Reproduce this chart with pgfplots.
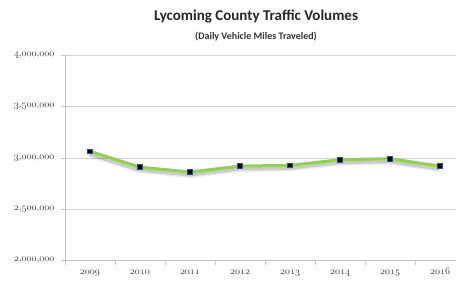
\documentclass[border=0pt]{standalone}
\usepackage{pgfplots}
\pgfplotsset{compat=1.18}
\usepackage{fontspec}
\setmainfont{Carlito}
\definecolor{lgreen}{RGB}{146,208,80}
\definecolor{axgray}{RGB}{195,195,195}
\definecolor{txtgray}{RGB}{60,60,60}
\definecolor{mkblue}{RGB}{40,80,140}
\newcommand{\os}[1]{$\mathnormal{#1}$}
\begin{document}
\begin{tikzpicture}[x=1pt,y=1pt]
\path[use as bounding box] (0,0) rectangle (456,281);
\begin{axis}[
  at={(65pt,20.3pt)}, anchor=south west,
  scale only axis, width=400pt, height=205.7pt,
  xmin=-0.5, xmax=7.5, ymin=2000000, ymax=4000000,
  axis x line=bottom, axis y line=left,
  axis line style={-, draw=axgray, line width=0.8pt},
  xtick={0,...,7},
  xticklabels={\os{2009},\os{2010},\os{2011},\os{2012},\os{2013},\os{2014},\os{2015},\os{2016}},
  major x tick style={draw=none},
  minor xtick={-0.5,0.5,...,7.5},
  minor x tick style={draw=axgray, line width=0.6pt},
  minor tick length=4pt,
  ytick={2000000,2500000,3000000,3500000,4000000},
  yticklabels={\os{2{,}000{,}000},\os{2{,}500{,}000},\os{3{,}000{,}000},\os{3{,}500{,}000},\os{4{,}000{,}000}},
  major y tick style={draw=axgray, line width=0.6pt},
  major tick length=4pt,
  tick align=outside,
  ymajorgrids, grid style={draw=axgray!75, line width=0.6pt},
  tick label style={font=\fontsize{10}{11}\selectfont, text=txtgray},
  xticklabel style={anchor=base, yshift=-10pt},
  yticklabel style={xshift=-3pt},
  scaled y ticks=false,
  clip=false,
]
\addplot[draw=black, opacity=0.08, line width=7pt, shift={(-0.5pt,-2.5pt)}] coordinates {
(0,3063000) (1,2910000) (2,2862000) (3,2920000) (4,2927000) (5,2982000) (6,2992000) (7,2920000)};
\addplot[draw=black, opacity=0.14, line width=4pt, shift={(-0.5pt,-2.5pt)}] coordinates {
(0,3063000) (1,2910000) (2,2862000) (3,2920000) (4,2927000) (5,2982000) (6,2992000) (7,2920000)};
\addplot[draw=lgreen, line width=3pt, mark=square*, mark size=2.4pt,
  mark options={fill=black, draw=mkblue, line width=0.6pt}] coordinates {
(0,3063000) (1,2910000) (2,2862000) (3,2920000) (4,2927000) (5,2982000) (6,2992000) (7,2920000)};
\end{axis}
\node[font=\bfseries\fontsize{15}{17}\selectfont, text=black!85] at (256,264) {Lycoming County Traffic Volumes};
\node[font=\bfseries\fontsize{10}{11}\selectfont, text=black!80] at (256,244) {(Daily Vehicle Miles Traveled)};
\end{tikzpicture}
\end{document}
